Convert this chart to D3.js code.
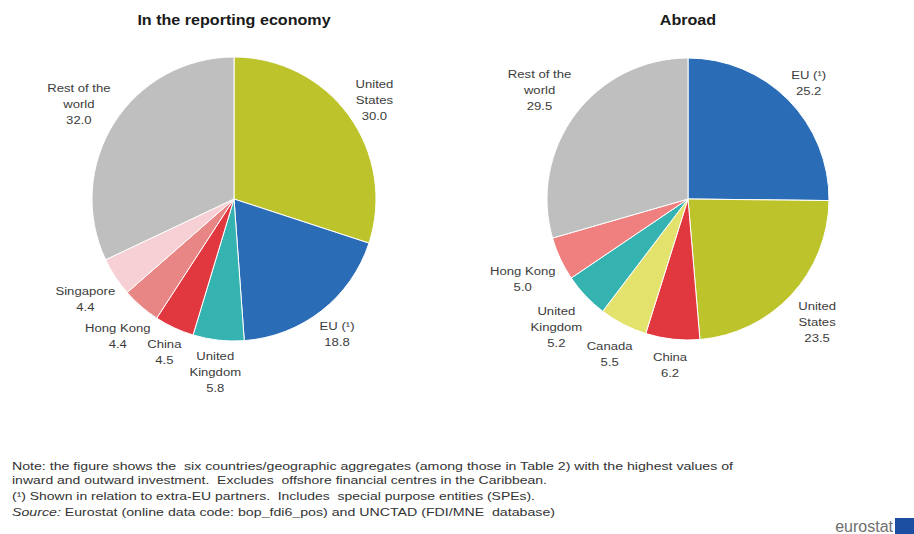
<!DOCTYPE html>
<html>
<head>
<meta charset="utf-8">
<script src="https://cdn.jsdelivr.net/npm/d3@7"></script>
<style>
  html, body { margin: 0; padding: 0; background: #fff; }
  svg { display: block; font-family: "Liberation Sans", Arial, sans-serif; }
</style>
</head>
<body>
<svg id="chart" width="914" height="534"></svg>
<script>
// Partners of FDI positions, share of total (%)
const inwardLabels = ["United States", "EU (¹)", "United Kingdom", "China", "Hong Kong", "Singapore", "Rest of the world"];
const inwardValues = [30.0, 18.8, 5.8, 4.5, 4.4, 4.4, 32.0];
const inwardKeys   = ["us", "eu", "uk", "cn", "hk", "sg", "row"];

const outwardLabels = ["EU (¹)", "United States", "China", "Canada", "United Kingdom", "Hong Kong", "Rest of the world"];
const outwardValues = [25.2, 23.5, 6.2, 5.5, 5.2, 5.0, 29.5];
const outwardKeys   = ["eu", "us", "cn", "ca", "uk", "hk2", "row"];

// Text broken over lines as shown next to each slice
const labelBreaks = {
  "United States": ["United", "States"],
  "United Kingdom": ["United", "Kingdom"],
  "Rest of the world": ["Rest of the", "world"]
};

const titles = ["In the reporting economy", "Abroad"];

const footnotes = [
  "Note: the figure shows the  six countries/geographic aggregates (among those in Table 2) with the highest values of",
  "inward and outward investment.  Excludes  offshore financial centres in the Caribbean.",
  "(¹) Shown in relation to extra-EU partners.  Includes  special purpose entities (SPEs).",
  "Source: Eurostat (online data code: bop_fdi6_pos) and UNCTAD (FDI/MNE  database)"
];
// rendered line widths of the note block
const footnoteWidths = [721, 535, 523, 543];

const color = d3.scaleOrdinal()
  .domain(["us", "eu", "uk", "cn", "hk", "sg", "row", "ca", "hk2"])
  .range(["#bdc42b", "#2b6cb6", "#35b3b1", "#e1373f", "#e88585", "#f6d0d4", "#bfbfbf", "#e3e26c", "#f08080"]);

const svg = d3.select("#chart");
const stretch = 1.14; // horizontal scale of the label type

function drawPie(cx, cy, r, labels, values, keys, title, pad) {
  const g = svg.append("g").attr("transform", `translate(${cx},${cy})`);
  const data = labels.map((l, i) => ({ label: l, value: values[i], key: keys[i] }));
  const pie = d3.pie().sort(null).value(d => d.value);
  const arc = d3.arc().innerRadius(0).outerRadius(r);
  const arcs = pie(data);

  g.selectAll("path.slice")
    .data(arcs)
    .join("path")
    .attr("class", "slice")
    .attr("d", arc)
    .attr("fill", d => color(d.data.key))
    .attr("stroke", "#fff")
    .attr("stroke-width", 1);

  const tt = svg.append("text")
    .attr("x", cx).attr("y", 25)
    .attr("text-anchor", "middle")
    .attr("font-size", 14)
    .attr("font-weight", "bold")
    .attr("fill", "#1a1a1a")
    .text(title);
  const tw = tt.node().getComputedTextLength();
  tt.attr("textLength", tw * 1.15).attr("lengthAdjust", "spacingAndGlyphs");

  const lineH = 16;
  arcs.forEach(a => {
    const lines = (labelBreaks[a.data.label] || [a.data.label]).concat([a.data.value.toFixed(1)]);
    const t = g.append("text")
      .attr("text-anchor", "middle")
      .attr("font-size", 11.5)
      .attr("fill", "#3c3c3c");
    lines.forEach((s, i) => t.append("tspan").attr("x", 0).attr("dy", i === 0 ? 0 : lineH).text(s));
    const w = stretch * d3.max(t.selectAll("tspan").nodes(), n => n.getComputedTextLength());
    const h = lines.length * lineH;
    const ang = (a.startAngle + a.endAngle) / 2;
    const sx = Math.sin(ang), sy = -Math.cos(ang);
    const dist = r + pad + (w / 2) * Math.abs(sx) + (h / 2) * Math.abs(sy);
    const lx = dist * sx, ly = dist * sy;
    // first baseline so the block sits centred on (lx, ly)
    t.attr("transform", `translate(${lx},${ly - h / 2 + 15}) scale(${stretch},1)`);
  });
}

drawPie(234, 199, 142, inwardLabels, inwardValues, inwardKeys, titles[0], 2);
drawPie(688, 199, 141, outwardLabels, outwardValues, outwardKeys, titles[1], 5);

// Footnotes
const fy = [470, 484, 500, 516];
footnotes.forEach((s, i) => {
  const t = svg.append("text")
    .attr("x", 12).attr("y", fy[i])
    .attr("font-size", 11)
    .attr("fill", "#333")
    .attr("xml:space", "preserve")
    .attr("textLength", footnoteWidths[i])
    .attr("lengthAdjust", "spacingAndGlyphs");
  if (i === 3) {
    t.append("tspan").attr("font-style", "italic").text("Source:");
    t.append("tspan").text(s.slice(7));
  } else {
    t.text(s);
  }
});

// Logo
const logo = svg.append("g");
logo.append("text")
  .attr("x", 893).attr("y", 532)
  .attr("text-anchor", "end")
  .attr("font-size", 16)
  .attr("fill", "#6f6f6f")
  .text("eurostat");
logo.append("rect")
  .attr("x", 895).attr("y", 518)
  .attr("width", 19).attr("height", 16)
  .attr("fill", "#1c4ea1");
</script>
</body>
</html>
